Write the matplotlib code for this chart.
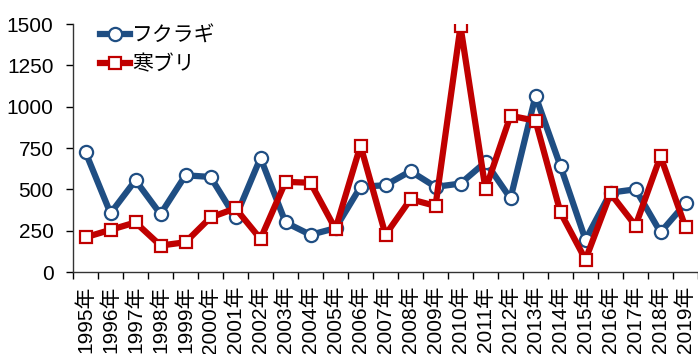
import numpy as np
import matplotlib
matplotlib.use("Agg")
from matplotlib import pyplot as plt

years = [f"{y}年" for y in range(1995, 2020)]
fukuragi = [725, 355, 555, 350, 585, 575, 330, 690, 300, 225, 265, 515, 525,
            610, 515, 535, 665, 445, 1065, 640, 195, 480, 500, 240, 415]
kanburi = [210, 255, 300, 160, 180, 330, 385, 200, 545, 540, 260, 765, 225,
           440, 400, 1485, 500, 945, 915, 360, 75, 475, 280, 700, 270]

BLUE = "#1F4E83"
RED = "#C00000"

plt.rcParams["font.family"] = ["Liberation Sans", "Noto Sans CJK JP"]

fig = plt.figure(figsize=(6.98, 3.54), dpi=100)
ax = fig.add_axes([73 / 698, 82 / 354, 625 / 698, 248 / 354])

x = np.arange(len(years))
ax.plot(x, fukuragi, color=BLUE, lw=4.5, marker="o", ms=9.5, mfc="white",
        mec=BLUE, mew=1.6, label="フクラギ", solid_joinstyle="round")
ax.plot(x, kanburi, color=RED, lw=4.5, marker="s", ms=9, mfc="white",
        mec=RED, mew=1.6, label="寒ブリ", solid_joinstyle="round")

ax.set_xlim(-0.5, len(years) - 0.5)
ax.set_ylim(0, 1500)
ax.set_yticks([0, 250, 500, 750, 1000, 1250, 1500])
ax.set_xticks(x)
ax.set_xticklabels(years, rotation=90, fontsize=15)
ax.set_xticks(np.arange(-0.5, len(years)), minor=True)
ax.tick_params(axis="x", which="major", length=0, pad=10)
ax.tick_params(axis="x", which="minor", length=5, width=1, direction="out")
ax.tick_params(axis="y", labelsize=15, length=5, width=1, direction="out", pad=9)

for s in ["top", "right"]:
    ax.spines[s].set_visible(False)
for s in ["left", "bottom"]:
    ax.spines[s].set_linewidth(1)
    ax.spines[s].set_color("#333333")

ax.legend(loc="upper left", bbox_to_anchor=(0.043, 0.99), frameon=False,
          fontsize=15, handlelength=1.45, handletextpad=0.1, labelspacing=0.45,
          borderaxespad=0, borderpad=0)

fig.savefig("out.png", dpi=100)
